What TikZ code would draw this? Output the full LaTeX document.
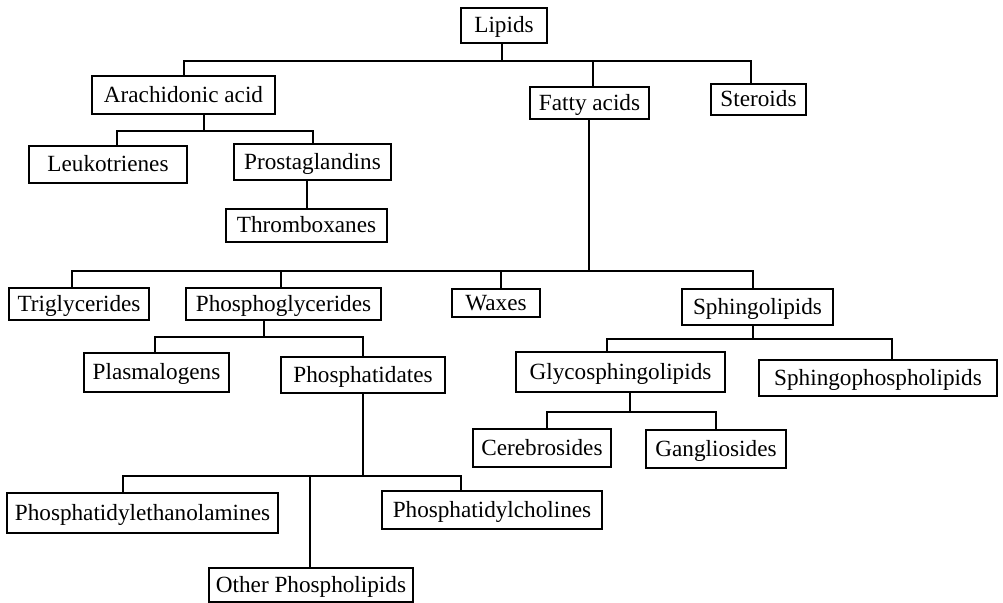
\documentclass[tikz,border=0pt]{standalone}
\usepackage{fontspec}
\setmainfont{Liberation Serif}
\usepackage{tikz}

\begin{document}
\begin{tikzpicture}[x=0.5pt, y=-0.5pt,
        box/.style={draw, line width=1.3pt, inner sep=0pt, text height=0.82em, text depth=0.1em,
                    font=\fontsize{11.6}{13}\selectfont},
        wh/.style 2 args={minimum width=#1*0.5pt, minimum height=#2*0.5pt},
        link/.style={line width=1.1pt}]
        \useasboundingbox (0,0) rectangle (1003,603);

        \node[box, wh={86}{35}]  (lip) at (504,25.5)  {Lipids};
        \node[box, wh={183}{38}] (ara) at (183.5,95)  {Arachidonic acid};
        \node[box, wh={119}{32}] (fat) at (589.5,103) {Fatty acids};
        \node[box, wh={95}{31}]  (ste) at (758.5,99.5) {Steroids};

        \node[box, wh={158}{37}] (leu) at (108,164.5)   {Leukotrienes};
        \node[box, wh={157}{36}] (pro) at (312.5,162)   {Prostaglandins};
        \node[box, wh={161}{33}] (thr) at (306.5,225.5) {Thromboxanes};

        \node[box, wh={140}{32}] (tri) at (79,304)    {Triglycerides};
        \node[box, wh={195}{32}] (pgl) at (283.5,304) {Phosphoglycerides};
        \node[box, wh={88}{28}]  (wax) at (496,303)   {Waxes};
        \node[box, wh={151}{36}] (sph) at (757.5,307) {Sphingolipids};

        \node[box, wh={145}{39}] (pla) at (156.5,372.5) {Plasmalogens};
        \node[box, wh={164}{36}] (pda) at (363,375)     {Phosphatidates};
        \node[box, wh={209}{40}] (gly) at (620.5,372)   {Glycosphingolipids};
        \node[box, wh={238}{36}] (spp) at (878,378)     {Sphingophospholipids};

        \node[box, wh={138}{38}] (cer) at (542,448) {Cerebrosides};
        \node[box, wh={140}{38}] (gan) at (716,449) {Gangliosides};

        \node[box, wh={271}{40}] (pe)  at (142.5,513) {Phosphatidylethanolamines};
        \node[box, wh={220}{38}] (pc)  at (492,510)   {Phosphatidylcholines};
        \node[box, wh={204}{34}] (oth) at (311,585)   {Other Phospholipids};

        % lipids
        \draw[link] (lip.south -| 502,0) -- (502,61) -| (ara.north -| 184,0);
        \draw[link] (502,61) -| (fat.north -| 593,0);
        \draw[link] (502,61) -| (ste.north -| 751,0);

        % arachidonic acid
        \draw[link] (ara.south -| 204,0) -- (204,131) -| (leu.north -| 117,0);
        \draw[link] (204,131) -| (pro.north -| 313,0);
        \draw[link] (pro.south -| 307,0) -- (thr.north -| 307,0);

        % fatty acids
        \draw[link] (fat.south -| 589,0) -- (589,271) -| (tri.north -| 72,0);
        \draw[link] (589,271) -| (pgl.north -| 281,0);
        \draw[link] (589,271) -| (wax.north -| 501,0);
        \draw[link] (589,271) -| (sph.north -| 753,0);

        % phosphoglycerides
        \draw[link] (pgl.south -| 264,0) -- (264,337) -| (pla.north -| 155,0);
        \draw[link] (264,337) -| (pda.north -| 363,0);

        % phosphatidates
        \draw[link] (pda.south -| 363,0) -- (363,476) -| (pe.north -| 123,0);
        \draw[link] (363,476) -| (oth.north -| 310,0);
        \draw[link] (363,476) -| (pc.north -| 461,0);

        % sphingolipids
        \draw[link] (sph.south -| 753,0) -- (753,339) -| (gly.north -| 607,0);
        \draw[link] (753,339) -| (spp.north -| 892,0);
        \draw[link] (gly.south -| 630,0) -- (630,412) -| (cer.north -| 547,0);
        \draw[link] (630,412) -| (gan.north -| 716,0);

\end{tikzpicture}
\end{document}
